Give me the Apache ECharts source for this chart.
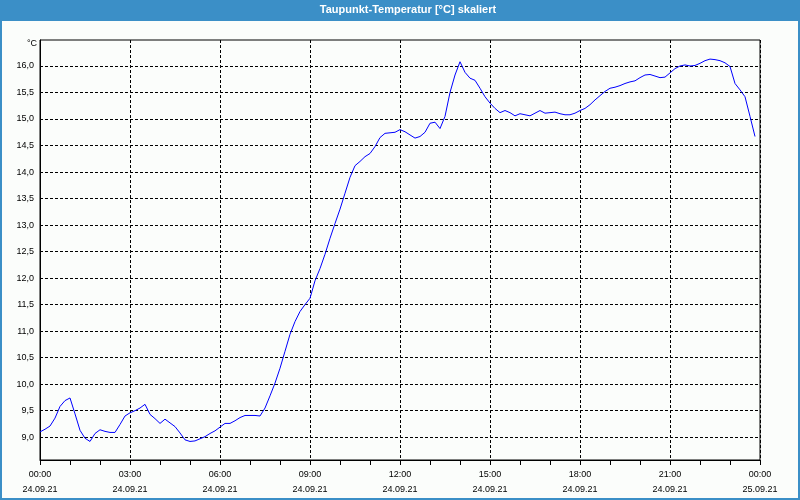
<!DOCTYPE html>
<html>
<head>
<meta charset="utf-8">
<script src="https://cdn.jsdelivr.net/npm/echarts@6/dist/echarts.min.js"></script>
<style>
html,body{margin:0;padding:0;background:#fbfdfb;}
#chart{width:800px;height:500px;}
</style>
</head>
<body>
<div id="chart"></div>
<script>
const chartTitle = 'Taupunkt-Temperatur [°C] skaliert';
const unitLabel = '°C';

// 10-minute samples, 24.09.21 00:00 .. 25.09.21 00:00
const timeCategories = [
 '24.09.21 00:00','24.09.21 00:10','24.09.21 00:20','24.09.21 00:30','24.09.21 00:40','24.09.21 00:50',
 '24.09.21 01:00','24.09.21 01:10','24.09.21 01:20','24.09.21 01:30','24.09.21 01:40','24.09.21 01:50',
 '24.09.21 02:00','24.09.21 02:10','24.09.21 02:20','24.09.21 02:30','24.09.21 02:40','24.09.21 02:50',
 '24.09.21 03:00','24.09.21 03:10','24.09.21 03:20','24.09.21 03:30','24.09.21 03:40','24.09.21 03:50',
 '24.09.21 04:00','24.09.21 04:10','24.09.21 04:20','24.09.21 04:30','24.09.21 04:40','24.09.21 04:50',
 '24.09.21 05:00','24.09.21 05:10','24.09.21 05:20','24.09.21 05:30','24.09.21 05:40','24.09.21 05:50',
 '24.09.21 06:00','24.09.21 06:10','24.09.21 06:20','24.09.21 06:30','24.09.21 06:40','24.09.21 06:50',
 '24.09.21 07:00','24.09.21 07:10','24.09.21 07:20','24.09.21 07:30','24.09.21 07:40','24.09.21 07:50',
 '24.09.21 08:00','24.09.21 08:10','24.09.21 08:20','24.09.21 08:30','24.09.21 08:40','24.09.21 08:50',
 '24.09.21 09:00','24.09.21 09:10','24.09.21 09:20','24.09.21 09:30','24.09.21 09:40','24.09.21 09:50',
 '24.09.21 10:00','24.09.21 10:10','24.09.21 10:20','24.09.21 10:30','24.09.21 10:40','24.09.21 10:50',
 '24.09.21 11:00','24.09.21 11:10','24.09.21 11:20','24.09.21 11:30','24.09.21 11:40','24.09.21 11:50',
 '24.09.21 12:00','24.09.21 12:10','24.09.21 12:20','24.09.21 12:30','24.09.21 12:40','24.09.21 12:50',
 '24.09.21 13:00','24.09.21 13:10','24.09.21 13:20','24.09.21 13:30','24.09.21 13:40','24.09.21 13:50',
 '24.09.21 14:00','24.09.21 14:10','24.09.21 14:20','24.09.21 14:30','24.09.21 14:40','24.09.21 14:50',
 '24.09.21 15:00','24.09.21 15:10','24.09.21 15:20','24.09.21 15:30','24.09.21 15:40','24.09.21 15:50',
 '24.09.21 16:00','24.09.21 16:10','24.09.21 16:20','24.09.21 16:30','24.09.21 16:40','24.09.21 16:50',
 '24.09.21 17:00','24.09.21 17:10','24.09.21 17:20','24.09.21 17:30','24.09.21 17:40','24.09.21 17:50',
 '24.09.21 18:00','24.09.21 18:10','24.09.21 18:20','24.09.21 18:30','24.09.21 18:40','24.09.21 18:50',
 '24.09.21 19:00','24.09.21 19:10','24.09.21 19:20','24.09.21 19:30','24.09.21 19:40','24.09.21 19:50',
 '24.09.21 20:00','24.09.21 20:10','24.09.21 20:20','24.09.21 20:30','24.09.21 20:40','24.09.21 20:50',
 '24.09.21 21:00','24.09.21 21:10','24.09.21 21:20','24.09.21 21:30','24.09.21 21:40','24.09.21 21:50',
 '24.09.21 22:00','24.09.21 22:10','24.09.21 22:20','24.09.21 22:30','24.09.21 22:40','24.09.21 22:50',
 '24.09.21 23:00','24.09.21 23:10','24.09.21 23:20','24.09.21 23:30','24.09.21 23:40','24.09.21 23:50',
 '25.09.21 00:00'
];

const dewPoint = [
 9.10, 9.15, 9.21, 9.36, 9.58, 9.69,
 9.74, 9.44, 9.13, 8.98, 8.92, 9.07,
 9.14, 9.11, 9.09, 9.09, 9.24, 9.40,
 9.46, 9.50, 9.55, 9.62, 9.43, 9.35,
 9.26, 9.34, 9.27, 9.20, 9.08, 8.95,
 8.92, 8.93, 8.97, 9.01, 9.07, 9.12,
 9.19, 9.26, 9.26, 9.31, 9.37, 9.41,
 9.41, 9.41, 9.40, 9.55, 9.78, 10.02,
 10.30, 10.62, 10.94, 11.18, 11.37, 11.50,
 11.62, 11.95, 12.18, 12.45, 12.75, 13.03,
 13.30, 13.60, 13.90, 14.12, 14.20, 14.29,
 14.35, 14.48, 14.65, 14.73, 14.74, 14.75,
 14.80, 14.76, 14.70, 14.64, 14.67, 14.75,
 14.92, 14.94, 14.82, 15.05, 15.50, 15.83,
 16.08, 15.88, 15.77, 15.73, 15.58, 15.42,
 15.30, 15.20, 15.12, 15.16, 15.12, 15.06,
 15.10, 15.08, 15.06, 15.11, 15.16, 15.11,
 15.12, 15.13, 15.10, 15.08, 15.08, 15.11,
 15.16, 15.20, 15.27, 15.36, 15.44, 15.52,
 15.58, 15.60, 15.63, 15.67, 15.70, 15.72,
 15.78, 15.83, 15.84, 15.81, 15.78, 15.79,
 15.87, 15.95, 16.00, 16.02, 16.00, 16.01,
 16.05, 16.10, 16.13, 16.12, 16.10, 16.06,
 15.99, 15.67, 15.55, 15.42, 15.05, 14.67
];

const yMin = 8.57;
const yMax = 16.49;
const yStep = 0.5;

const frameBlue = '#3b8fc7';
const labelFont = 'Liberation Sans';

const chart = echarts.init(document.getElementById('chart'), null, {renderer: 'canvas'});

chart.setOption({
  backgroundColor: '#fbfdfb',
  animation: false,
  grid: {
    left: 40, right: 40, top: 40, bottom: 40,
    show: true, borderColor: '#000', borderWidth: 1, backgroundColor: 'transparent'
  },
  xAxis: {
    type: 'category',
    data: timeCategories,
    boundaryGap: false,
    axisLine: {show: true, lineStyle: {color: '#000', width: 1}},
    axisTick: {show: true, interval: 5, length: 5, lineStyle: {color: '#000'}},
    axisLabel: {
      interval: 17, margin: 7, color: '#000', fontFamily: labelFont, fontSize: 9, lineHeight: 15,
      formatter: function (v) { const p = v.split(' '); return p[1] + '\n' + p[0]; }
    },
    splitLine: {show: true, interval: 17, lineStyle: {color: '#000', type: [3, 2], width: 1}}
  },
  yAxis: {
    type: 'value',
    min: yMin, max: yMax,
    minInterval: yStep, maxInterval: yStep, splitNumber: 16,
    axisLine: {show: true, lineStyle: {color: '#000', width: 1}},
    axisTick: {show: false},
    axisLabel: {
      margin: 6, color: '#000', fontFamily: labelFont, fontSize: 9,
      formatter: function (v) {
        if (Math.abs(v / yStep - Math.round(v / yStep)) > 1e-6) return '';
        return v.toFixed(1).replace('.', ',');
      }
    },
    splitLine: {show: true, showMinLine: false, showMaxLine: false,
      lineStyle: {color: '#000', type: [3, 2], width: 1}}
  },
  series: [{
    type: 'line',
    data: dewPoint,
    symbol: 'none',
    lineStyle: {color: '#0000ff', width: 1},
    itemStyle: {color: '#0000ff'}
  }],
  graphic: [
    {type: 'rect', shape: {x: 0, y: 0, width: 800, height: 21}, style: {fill: frameBlue}, silent: true},
    {type: 'rect', shape: {x: 0, y: 0, width: 2, height: 500}, style: {fill: frameBlue}, silent: true},
    {type: 'rect', shape: {x: 798, y: 0, width: 2, height: 500}, style: {fill: frameBlue}, silent: true},
    {type: 'rect', shape: {x: 0, y: 498, width: 800, height: 2}, style: {fill: frameBlue}, silent: true},
    {type: 'text', x: 408, y: 10, style: {text: chartTitle, fill: '#fff', font: 'bold 11px "Liberation Sans"',
      textAlign: 'center', textVerticalAlign: 'middle'}, silent: true},
    {type: 'text', x: 37, y: 44, style: {text: unitLabel, fill: '#000', font: '9px "Liberation Sans"',
      textAlign: 'right', textVerticalAlign: 'middle'}, silent: true}
  ]
});
</script>
</body>
</html>
